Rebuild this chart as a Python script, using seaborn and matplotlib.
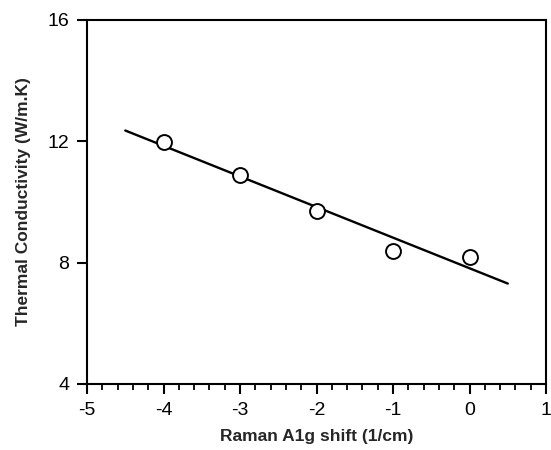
import matplotlib

matplotlib.use("Agg")
import matplotlib.pyplot as plt
import numpy as np
import pandas as pd
import seaborn as sns
from matplotlib.ticker import MultipleLocator

# data
raman_shift = [-4, -3, -2, -1, 0]
conductivity = [11.98, 10.89, 9.70, 8.38, 8.19]
fit_range = [-4.5, 0.5]

sns.set_theme(style="ticks")
plt.rcParams["font.family"] = ["Liberation Sans", "DejaVu Sans"]
plt.rcParams["axes.unicode_minus"] = False

df = pd.DataFrame({"shift": raman_shift, "k": conductivity})
slope, intercept = np.polyfit(df["shift"], df["k"], 1)
fit_x = np.array(fit_range)
fit_df = pd.DataFrame({"shift": fit_x, "k": slope * fit_x + intercept})

fig = plt.figure(figsize=(5.51, 4.5), dpi=100)
ax = fig.add_axes([0.158, 0.147, 0.833, 0.809])

sns.lineplot(data=fit_df, x="shift", y="k", ax=ax, color="black", linewidth=1.7)
sns.scatterplot(data=df, x="shift", y="k", ax=ax, s=115, facecolor="white",
                edgecolor="black", linewidth=1.4, zorder=3)

ax.set_xlim(-5, 1)
ax.set_ylim(4, 16)
ax.set_xticks(range(-5, 2))
ax.set_yticks([4, 8, 12, 16])
ax.xaxis.set_minor_locator(MultipleLocator(0.2))
ax.tick_params(axis="both", which="major", direction="out", length=7, width=1.5,
               labelsize=14, color="black", labelcolor="black", pad=6)
ax.tick_params(axis="x", which="minor", direction="out", length=4, width=1.3, color="black")
for sp in ax.spines.values():
    sp.set_linewidth(1.5)
    sp.set_color("black")

ax.set_xlabel("Raman A1g shift (1/cm)", fontsize=12.5, fontweight="bold", labelpad=7)
ax.set_ylabel("Thermal Conductivity (W/m.K)", fontsize=12.5, fontweight="bold", labelpad=12)

fig.savefig("out.png", dpi=100)
plt.close(fig)
